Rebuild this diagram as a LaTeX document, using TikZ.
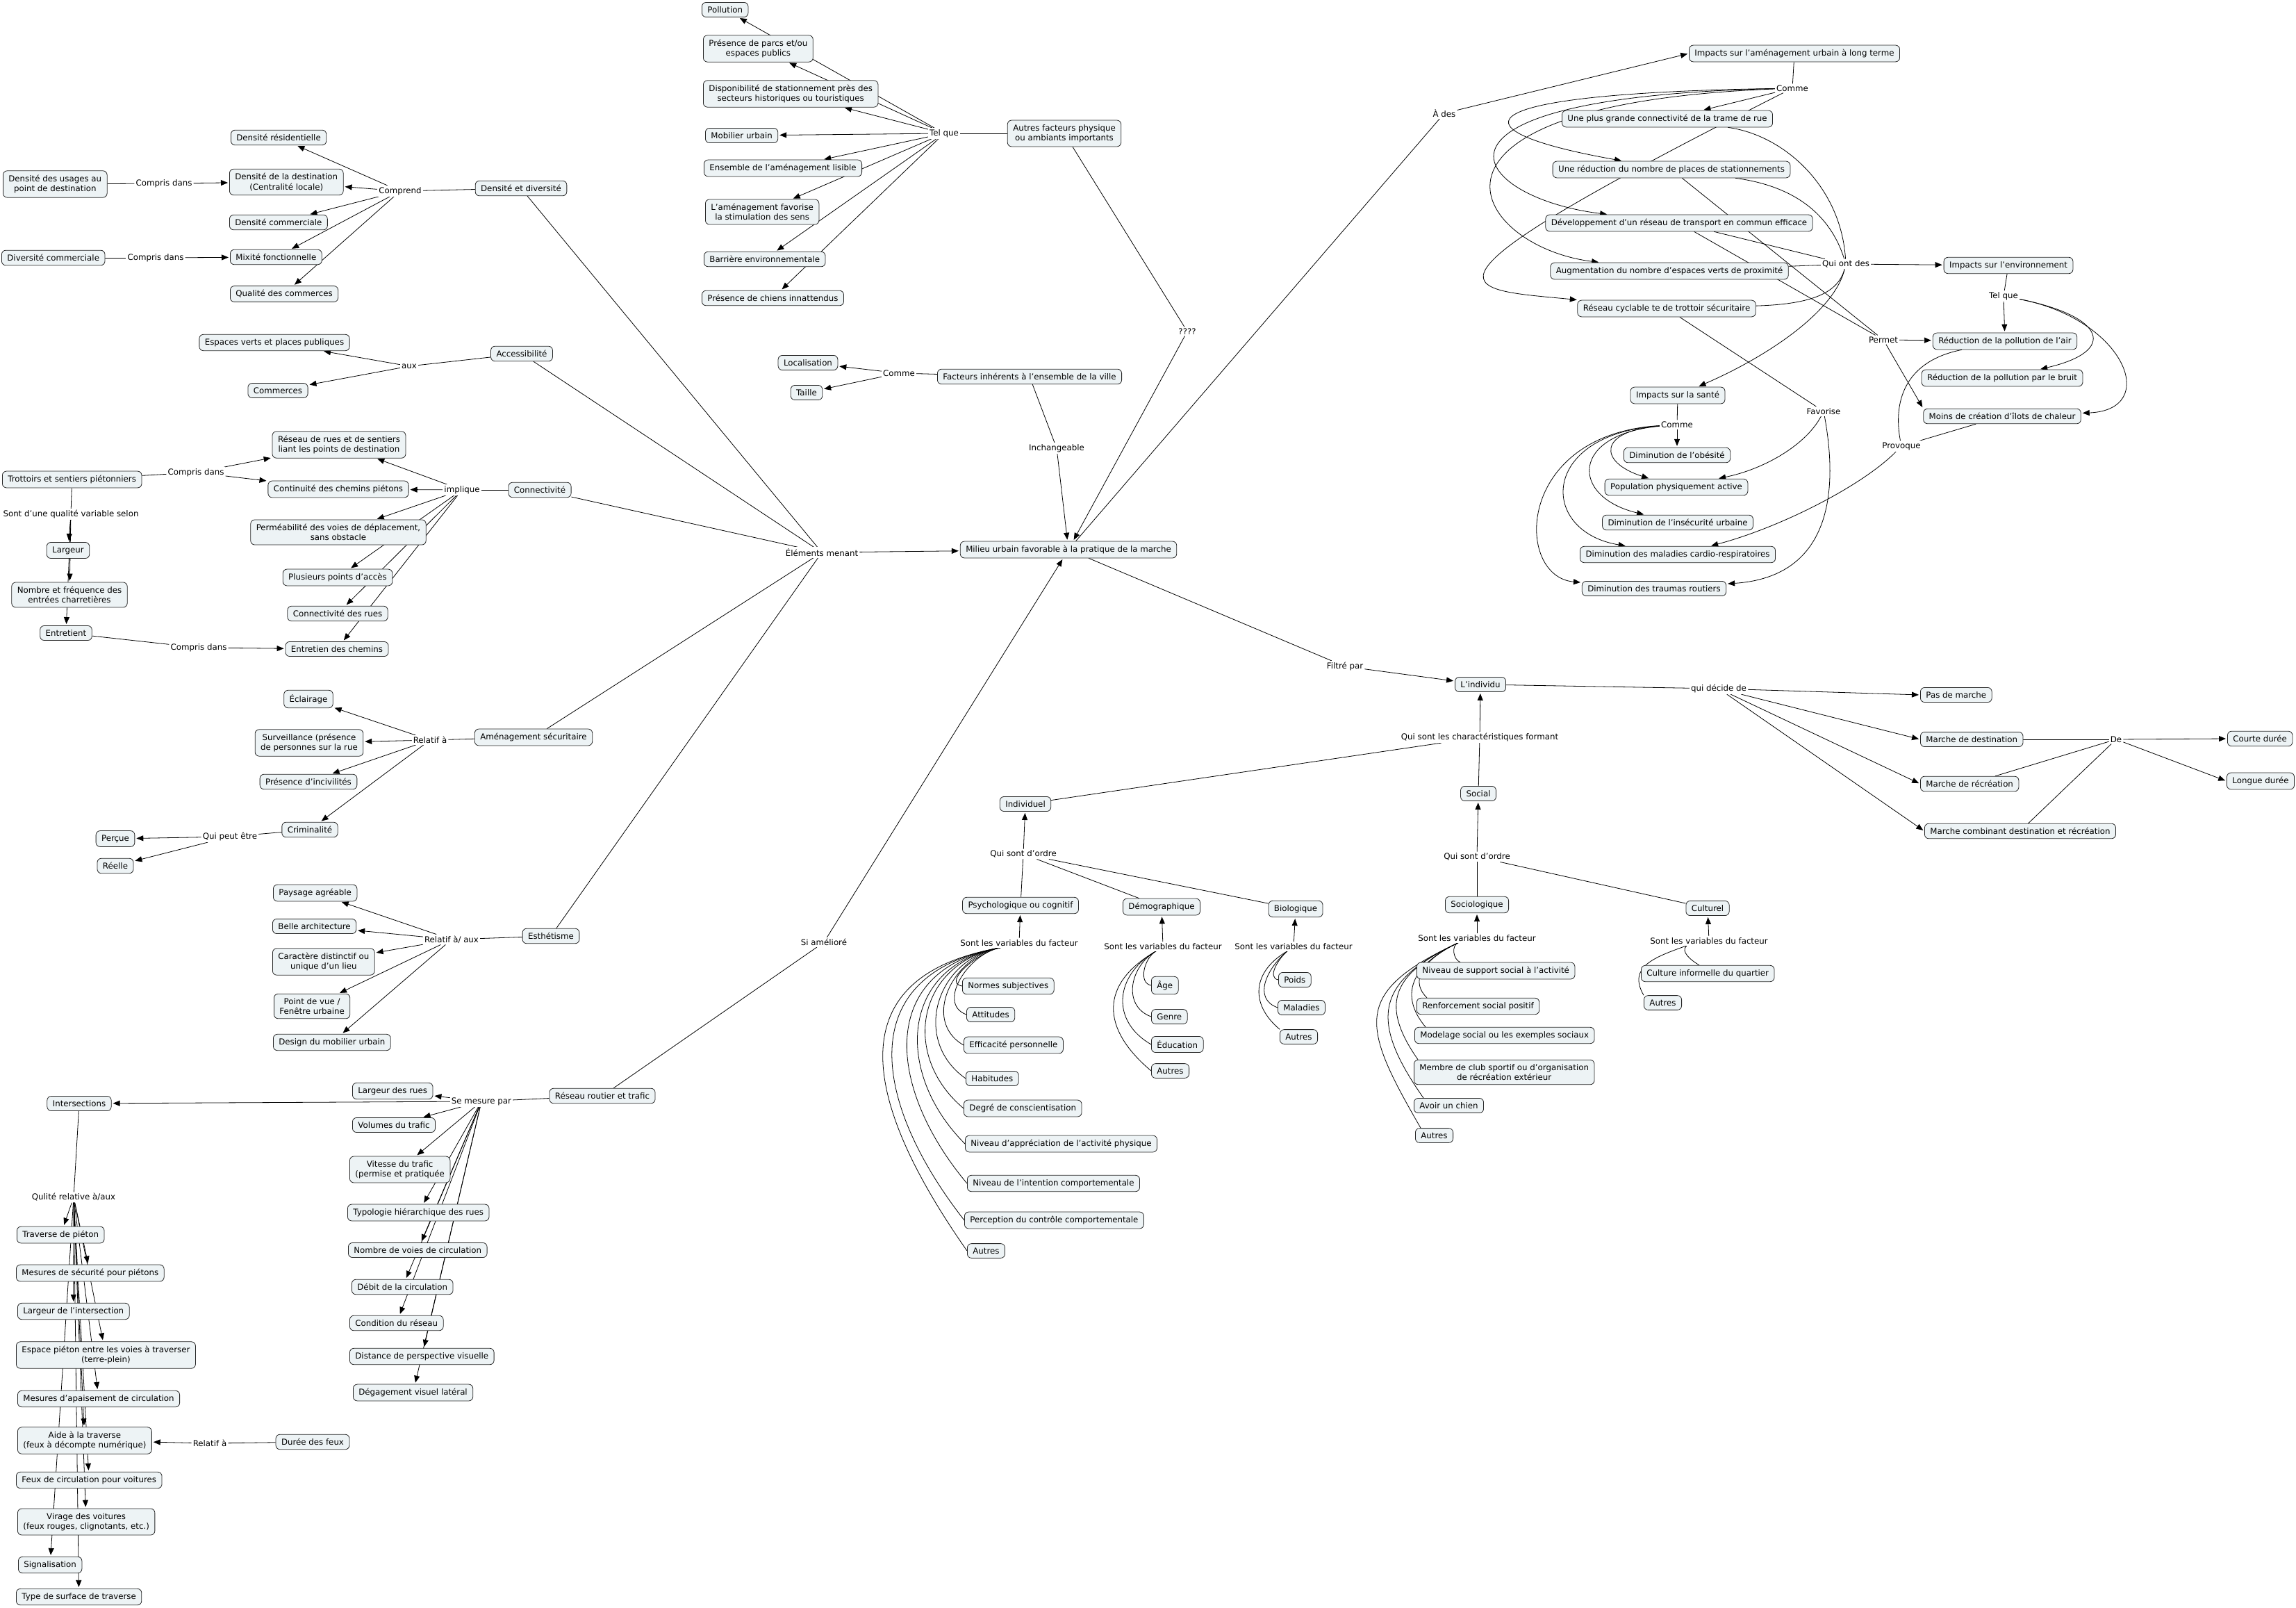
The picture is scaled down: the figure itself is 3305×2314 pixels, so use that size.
\documentclass[tikz,border=0pt]{standalone}
\usepackage{fontspec}
\setmainfont{DejaVu Sans}
\usetikzlibrary{arrows.meta,backgrounds}
\definecolor{boxfill}{RGB}{237,243,245}
\newcommand{\mapfont}{\fontsize{11.8}{14.5}\selectfont}
\tikzset{
  concept/.style={draw=black!85, line width=0.8pt, rounded corners=6pt, fill=boxfill,
    inner xsep=8pt, inner ysep=6pt, align=center, font=\mapfont},
  phrase/.style={fill=white, inner sep=2pt, font=\mapfont},
  conn/.style={line width=0.8pt},
  arr/.style={conn, -{Triangle[length=10pt,width=8pt]}, shorten >=2pt},
}
\begin{document}
\begin{tikzpicture}[x=1pt, y=1pt]
  \useasboundingbox (0,0) rectangle (3305,-2314);
  % Densite et diversite
  \node[concept] (dendiv) at (750,-271) {Densité et diversité};
  \node[phrase] (comprend) at (576,-275) {Comprend};
  \node[concept, anchor=west] (denres) at (332,-198) {Densité résidentielle};
  \node[concept, anchor=west] (dendest) at (330,-262) {Densité de la destination\\(Centralité locale)};
  \node[concept, anchor=west] (dencom) at (330,-320) {Densité commerciale};
  \node[concept, anchor=west] (mixite) at (331,-370) {Mixité fonctionnelle};
  \node[concept, anchor=west] (qualcom) at (331,-423) {Qualité des commerces};
  \node[concept, anchor=west] (denusage) at (4,-265) {Densité des usages au\\point de destination};
  \node[phrase] (compris1) at (236,-264) {Compris dans};
  \node[concept, anchor=west] (divcom) at (2,-371) {Diversité commerciale};
  \node[phrase] (compris2) at (224,-371) {Compris dans};
  % Accessibilite
  \node[concept] (access) at (751,-509) {Accessibilité};
  \node[phrase] (aux) at (589,-527) {aux};
  \node[concept] (espverts) at (395,-493) {Espaces verts et places publiques};
  \node[concept] (commerces) at (400,-562) {Commerces};
  % Connectivite
  \node[concept] (connect) at (777,-705) {Connectivité};
  \node[phrase] (implique) at (665,-705) {implique};
  \node[concept] (reseaurues) at (488,-640) {Réseau de rues et de sentiers\\liant les points de destination};
  \node[concept] (contin) at (487,-704) {Continuité des chemins piétons};
  \node[concept] (permea) at (487,-766) {Perméabilité des voies de déplacement,\\sans obstacle};
  \node[concept] (points) at (486,-831) {Plusieurs points d'accès};
  \node[concept] (connrues) at (486,-883) {Connectivité des rues};
  \node[concept] (entchemins) at (485,-934) {Entretien des chemins};
  \node[concept, anchor=west] (trottoirs) at (3,-690) {Trottoirs et sentiers piétonniers};
  \node[phrase] (compris3) at (282,-680) {Compris dans};
  \node[phrase] (qualvar) at (102,-740) {Sont d'une qualité variable selon};
  \node[concept] (largeur) at (98,-792) {Largeur};
  \node[concept] (nombre) at (100,-856) {Nombre et fréquence des\\entrées charretières};
  \node[concept] (entretient) at (95,-911) {Entretient};
  \node[phrase] (compris4) at (286,-932) {Compris dans};
  % Amenagement securitaire
  \node[concept] (amenag) at (768,-1061) {Aménagement sécuritaire};
  \node[phrase] (relatif1) at (619,-1065) {Relatif à};
  \node[concept] (eclairage) at (444,-1006) {Éclairage};
  \node[concept] (surveil) at (445,-1069) {Surveillance (présence\\de personnes sur la rue};
  \node[concept] (incivil) at (444,-1125) {Présence d'incivilités};
  \node[concept] (crimin) at (446,-1194) {Criminalité};
  \node[phrase] (peutetre) at (331,-1204) {Qui peut être};
  \node[concept] (percue) at (166,-1207) {Perçue};
  \node[concept] (reelle) at (166,-1246) {Réelle};
  % Esthetisme
  \node[concept] (esthet) at (793,-1347) {Esthétisme};
  \node[phrase] (relatifaux) at (650,-1352) {Relatif à/ aux};
  \node[concept, anchor=west] (paysage) at (393,-1285) {Paysage agréable};
  \node[concept, anchor=west] (archi) at (392,-1333) {Belle architecture};
  \node[concept, anchor=west] (caract) at (392,-1384) {Caractère distinctif ou\\unique d'un lieu};
  \node[concept, anchor=west] (pointvue) at (394,-1448) {Point de vue /\\Fenêtre urbaine};
  \node[concept, anchor=west] (design) at (393,-1500) {Design du mobilier urbain};
  % Reseau routier et trafic
  \node[concept] (reseaurout) at (867,-1577) {Réseau routier et trafic};
  \node[phrase] (mesure) at (693,-1585) {Se mesure par};
  \node[concept, anchor=west] (largrues) at (507,-1570) {Largeur des rues};
  \node[concept, anchor=west] (volumes) at (507,-1619) {Volumes du trafic};
  \node[concept, anchor=west] (vitesse) at (503,-1683) {Vitesse du trafic\\(permise et pratiquée};
  \node[concept, anchor=west] (typo) at (500,-1745) {Typologie hiérarchique des rues};
  \node[concept, anchor=west] (voies) at (501,-1799) {Nombre de voies de circulation};
  \node[concept, anchor=west] (debit) at (506,-1852) {Débit de la circulation};
  \node[concept, anchor=west] (condition) at (503,-1904) {Condition du réseau};
  \node[concept, anchor=west] (distance) at (503,-1952) {Distance de perspective visuelle};
  \node[concept, anchor=west] (degag) at (508,-2004) {Dégagement visuel latéral};
  \node[phrase] (amelio) at (1186,-1356) {Si amélioré};
  % Intersections
  \node[concept] (intersect) at (114,-1588) {Intersections};
  \node[phrase] (qualrel) at (106,-1723) {Qulité relative à/aux};
  \node[concept, anchor=west] (traverse) at (24,-1777) {Traverse de piéton};
  \node[concept, anchor=west] (mesecu) at (23,-1832) {Mesures de sécurité pour piétons};
  \node[concept, anchor=west] (largint) at (25,-1887) {Largeur de l'intersection};
  \node[concept, anchor=west] (espace) at (23,-1950) {Espace piéton entre les voies à traverser\\(terre-plein)};
  \node[concept, anchor=west] (apais) at (25,-2013) {Mesures d'apaisement de circulation};
  \node[concept, anchor=west] (aide) at (25,-2073) {Aide à la traverse\\(feux à décompte numérique)};
  \node[concept, anchor=west] (feux) at (23,-2130) {Feux de circulation pour voitures};
  \node[concept, anchor=west] (virage) at (25,-2190) {Virage des voitures\\(feux rouges, clignotants, etc.)};
  \node[concept, anchor=west] (signal) at (26,-2252) {Signalisation};
  \node[concept, anchor=west] (surface) at (23,-2298) {Type de surface de traverse};
  \node[phrase] (relatif2) at (302,-2077) {Relatif à};
  \node[concept] (duree) at (450,-2075) {Durée des feux};
  % Milieu urbain
  \node[concept] (milieu) at (1538,-791) {Milieu urbain favorable à la pratique de la marche};
  \node[phrase] (menant) at (1183,-795) {Éléments menant};
  % Autres facteurs physiques
  \node[concept] (autresfact) at (1532,-192) {Autres facteurs physique\\ou ambiants importants};
  \node[phrase] (telque1) at (1359,-192) {Tel que};
  \node[concept, anchor=west] (pollution) at (1010,-14) {Pollution};
  \node[concept, anchor=west] (parcs) at (1012,-70) {Présence de parcs et/ou\\espaces publics};
  \node[concept, anchor=west] (stationn) at (1012,-135) {Disponibilité de stationnement près des\\secteurs historiques ou touristiques};
  \node[concept, anchor=west] (mobilier) at (1015,-195) {Mobilier urbain};
  \node[concept, anchor=west] (lisible) at (1013,-242) {Ensemble de l'aménagement lisible};
  \node[concept, anchor=west] (stimul) at (1015,-305) {L'aménagement favorise\\la stimulation des sens};
  \node[concept, anchor=west] (barriere) at (1013,-373) {Barrière environnementale};
  \node[concept, anchor=west] (chiens) at (1010,-429) {Présence de chiens innattendus};
  \node[phrase] (questions) at (1709,-477) {????};
  % Facteurs inherents
  \node[concept] (inherents) at (1482,-542) {Facteurs inhérents à l'ensemble de la ville};
  \node[phrase] (comme1) at (1294,-537) {Comme};
  \node[concept] (localis) at (1163,-522) {Localisation};
  \node[concept] (taille) at (1161,-565) {Taille};
  \node[phrase] (inchang) at (1521,-645) {Inchangeable};
  % Impacts
  \node[phrase] (ades) at (2079,-163) {À des};
  \node[concept] (impamenag) at (2583,-77) {Impacts sur l'aménagement urbain à long terme};
  \node[phrase] (comme2) at (2580,-127) {Comme};
  \node[concept] (connectivite) at (2400,-171) {Une plus grande connectivité de la trame de rue};
  \node[concept] (reduction) at (2406,-244) {Une réduction du nombre de places de stationnements};
  \node[concept] (transport) at (2417,-321) {Développement d'un réseau de transport en commun efficace};
  \node[concept] (espverts2) at (2403,-390) {Augmentation du nombre d'espaces verts de proximité};
  \node[concept] (cyclable) at (2399,-444) {Réseau cyclable te de trottoir sécuritaire};
  \node[phrase] (quiont) at (2657,-380) {Qui ont des};
  \node[concept] (impenv) at (2891,-382) {Impacts sur l'environnement};
  \node[phrase] (telque2) at (2884,-426) {Tel que};
  \node[concept] (polair) at (2886,-491) {Réduction de la pollution de l'air};
  \node[concept] (bruit) at (2882,-544) {Réduction de la pollution par le bruit};
  \node[concept] (ilots) at (2882,-599) {Moins de création d'îlots de chaleur};
  \node[phrase] (permet) at (2711,-489) {Permet};
  \node[phrase] (favorise) at (2625,-592) {Favorise};
  \node[phrase] (provoque) at (2737,-642) {Provoque};
  \node[concept] (impsante) at (2415,-569) {Impacts sur la santé};
  \node[phrase] (comme3) at (2414,-611) {Comme};
  \node[concept] (obesite) at (2414,-655) {Diminution de l'obésité};
  \node[concept] (popactive) at (2413,-701) {Population physiquement active};
  \node[concept] (insecur) at (2415,-752) {Diminution de l'insécurité urbaine};
  \node[concept] (cardio) at (2415,-798) {Diminution des maladies cardio-respiratoires};
  \node[concept] (traumas) at (2381,-847) {Diminution des traumas routiers};
  % L'individu
  \node[phrase] (filtre) at (1936,-959) {Filtré par};
  \node[concept] (individu) at (2131,-985) {L'individu};
  \node[phrase] (decide) at (2474,-991) {qui décide de};
  \node[concept, anchor=west] (pasmarche) at (2764,-1000) {Pas de marche};
  \node[concept, anchor=west] (mdest) at (2764,-1064) {Marche de destination};
  \node[concept, anchor=west] (mrecr) at (2764,-1128) {Marche de récréation};
  \node[concept, anchor=west] (mcomb) at (2770,-1196) {Marche combinant destination et récréation};
  \node[phrase] (de) at (3046,-1064) {De};
  \node[concept, anchor=west] (courte) at (3206,-1063) {Courte durée};
  \node[concept, anchor=west] (longue) at (3205,-1124) {Longue durée};
  \node[phrase] (formant) at (2130,-1061) {Qui sont les charactéristiques formant};
  \node[concept] (individuel) at (1476,-1157) {Individuel};
  \node[concept] (social) at (2128,-1142) {Social};
  \node[phrase] (ordre1) at (1473,-1229) {Qui sont d'ordre};
  \node[phrase] (ordre2) at (2126,-1233) {Qui sont d'ordre};
  \node[concept] (psycho) at (1469,-1303) {Psychologique ou cognitif};
  \node[concept] (demo) at (1672,-1305) {Démographique};
  \node[concept] (bio) at (1865,-1308) {Biologique};
  \node[concept] (socio) at (2126,-1302) {Sociologique};
  \node[concept] (culturel) at (2458,-1307) {Culturel};
  \node[phrase] (varpsy) at (1467,-1357) {Sont les variables du facteur};
  \node[phrase] (vardemo) at (1674,-1362) {Sont les variables du facteur};
  \node[phrase] (varbio) at (1862,-1362) {Sont les variables du facteur};
  \node[phrase] (varsoc) at (2126,-1350) {Sont les variables du facteur};
  \node[phrase] (varcult) at (2460,-1354) {Sont les variables du facteur};
  % Variables
  \node[concept, anchor=west] (normes) at (1385,-1419) {Normes subjectives};
  \node[concept, anchor=west] (attitudes) at (1391,-1460) {Attitudes};
  \node[concept, anchor=west] (efficacite) at (1387,-1504) {Efficacité personnelle};
  \node[concept, anchor=west] (habitudes) at (1390,-1552) {Habitudes};
  \node[concept, anchor=west] (degre) at (1387,-1595) {Degré de conscientisation};
  \node[concept, anchor=west] (apprec) at (1389,-1646) {Niveau d'appréciation de l'activité physique};
  \node[concept, anchor=west] (intention) at (1392,-1703) {Niveau de l'intention comportementale};
  \node[concept, anchor=west] (perception) at (1388,-1756) {Perception du contrôle comportementale};
  \node[concept, anchor=west] (autrespsy) at (1392,-1800) {Autres};
  \node[concept, anchor=west] (age) at (1657,-1418) {Âge};
  \node[concept, anchor=west] (genre) at (1657,-1463) {Genre};
  \node[concept, anchor=west] (educ) at (1657,-1503) {Éducation};
  \node[concept, anchor=west] (autresdemo) at (1657,-1541) {Autres};
  \node[concept, anchor=west] (poids) at (1840,-1410) {Poids};
  \node[concept, anchor=west] (maladies) at (1839,-1450) {Maladies};
  \node[concept, anchor=west] (autresbio) at (1842,-1492) {Autres};
  \node[concept, anchor=west] (support) at (2039,-1397) {Niveau de support social à l'activité};
  \node[concept, anchor=west] (renfort) at (2039,-1448) {Renforcement social positif};
  \node[concept, anchor=west] (modelage) at (2036,-1490) {Modelage social ou les exemples sociaux};
  \node[concept, anchor=west] (membre) at (2035,-1543) {Membre de club sportif ou d'organisation\\de récréation extérieur};
  \node[concept, anchor=west] (chien) at (2035,-1591) {Avoir un chien};
  \node[concept, anchor=west] (autressoc) at (2037,-1634) {Autres};
  \node[concept, anchor=west] (cultinf) at (2362,-1401) {Culture informelle du quartier};
  \node[concept, anchor=west] (autrescult) at (2366,-1443) {Autres};

  \begin{scope}[on background layer]
    % Densite et diversite
    \draw[conn] (dendiv) -- (comprend);
    \foreach \nd in {denres,dendest,dencom,mixite,qualcom}
      \draw[arr] (comprend) -- (\nd);
    \draw[conn] (denusage) -- (compris1);
    \draw[arr] (compris1) -- (dendest);
    \draw[conn] (divcom) -- (compris2);
    \draw[arr] (compris2) -- (mixite);
    % Accessibilite
    \draw[conn] (access) -- (aux);
    \foreach \nd in {espverts,commerces}
      \draw[arr] (aux) -- (\nd);
    % Connectivite
    \draw[conn] (connect) -- (implique);
    \foreach \nd in {reseaurues,contin,permea,points,connrues,entchemins}
      \draw[arr] (implique) -- (\nd);
    \draw[conn] (trottoirs) -- (compris3);
    \foreach \nd in {reseaurues,contin}
      \draw[arr] (compris3) -- (\nd);
    \draw[conn] (trottoirs) -- (qualvar);
    \foreach \nd in {largeur,nombre,entretient}
      \draw[arr] (qualvar) -- (\nd);
    \draw[conn] (entretient) -- (compris4);
    \draw[arr] (compris4) -- (entchemins);
    % Amenagement securitaire
    \draw[conn] (amenag) -- (relatif1);
    \foreach \nd in {eclairage,surveil,incivil,crimin}
      \draw[arr] (relatif1) -- (\nd);
    \draw[conn] (crimin) -- (peutetre);
    \foreach \nd in {percue,reelle}
      \draw[arr] (peutetre) -- (\nd);
    % Esthetisme
    \draw[conn] (esthet) -- (relatifaux);
    \foreach \nd in {paysage,archi,caract,pointvue,design}
      \draw[arr] (relatifaux) -- (\nd);
    % Elements menant
    \foreach \nd in {dendiv,access,connect,amenag,esthet}
      \draw[conn] (\nd) -- (menant);
    \draw[arr] (menant) -- (milieu);
    % Reseau routier
    \draw[conn] (reseaurout) -- (mesure);
    \foreach \nd in {intersect,largrues,volumes,vitesse,typo,voies,debit,condition,distance,degag}
      \draw[arr] (mesure) -- (\nd);
    \draw[conn] (reseaurout) -- (amelio);
    \draw[arr] (amelio) -- (milieu);
    % Intersections
    \draw[conn] (intersect) -- (qualrel);
    \foreach \nd in {traverse,mesecu,largint,espace,apais,aide,feux,virage,signal,surface}
      \draw[arr] (qualrel) -- (\nd);
    \draw[conn] (duree) -- (relatif2);
    \draw[arr] (relatif2) -- (aide);
    % Autres facteurs et facteurs inherents
    \draw[conn] (autresfact) -- (telque1);
    \foreach \nd in {pollution,parcs,stationn,mobilier,lisible,stimul,barriere,chiens}
      \draw[arr] (telque1) -- (\nd);
    \draw[conn] (autresfact) -- (questions);
    \draw[arr] (questions) -- (milieu);
    \draw[conn] (inherents) -- (comme1);
    \foreach \nd in {localis,taille}
      \draw[arr] (comme1) -- (\nd);
    \draw[conn] (inherents) -- (inchang);
    \draw[arr] (inchang) -- (milieu);
    % Impacts a long terme
    \draw[conn] (milieu) -- (ades);
    \draw[arr] (ades) -- (impamenag.west);
    \draw[conn] (impamenag) -- (comme2);
    \draw[arr] (comme2) -- (connectivite);
    \draw[arr] (comme2) .. controls (2080,-135) and (2100,-190) .. (reduction);
    \draw[arr] (comme2) .. controls (2000,-140) and (2120,-285) .. (transport);
    \draw[arr] (comme2) .. controls (1990,-150) and (2120,-355) .. (espverts2);
    \draw[arr] (comme2) .. controls (2000,-420) and (2100,-415) .. (cyclable);
    % Qui ont des
    \draw[conn] (connectivite) .. controls (2570,-195) and (2650,-270) .. (quiont);
    \draw[conn] (reduction) .. controls (2585,-268) and (2635,-310) .. (quiont);
    \draw[conn] (transport) -- (quiont);
    \draw[conn] (espverts2) -- (quiont);
    \draw[conn] (cyclable) .. controls (2600,-438) and (2645,-425) .. (quiont);
    \draw[arr] (quiont) -- (impenv);
    \draw[arr] (quiont) .. controls (2640,-450) and (2540,-515) .. (impsante);
    % Permet, favorise, provoque
    \foreach \nd in {reduction,transport}
      \draw[conn] (\nd) -- (permet);
    \draw[arr] (permet) -- (polair);
    \draw[arr] (permet) -- (ilots.north west);
    \draw[conn] (cyclable) -- (favorise);
    \draw[arr] (favorise) .. controls (2600,-640) and (2540,-675) .. (popactive);
    \draw[arr] (favorise) .. controls (2645,-700) and (2640,-830) .. (traumas);
    \draw[conn] (impenv) -- (telque2);
    \draw[arr] (telque2) -- (polair);
    \draw[arr] (telque2) .. controls (3030,-455) and (3050,-505) .. (bruit);
    \draw[arr] (telque2) .. controls (3060,-460) and (3110,-590) .. (ilots);
    \draw[conn] (polair) .. controls (2740,-520) and (2725,-580) .. (provoque);
    \draw[conn] (ilots) -- (provoque);
    \draw[arr] (provoque) .. controls (2680,-700) and (2560,-760) .. (cardio);
    % Sante
    \draw[conn] (impsante) -- (comme3);
    \draw[arr] (comme3) -- (obesite);
    \draw[arr] (comme3) .. controls (2300,-620) and (2300,-665) .. (popactive);
    \draw[arr] (comme3) .. controls (2260,-625) and (2260,-715) .. (insecur);
    \draw[arr] (comme3) .. controls (2215,-625) and (2215,-765) .. (cardio);
    \draw[arr] (comme3) .. controls (2180,-625) and (2180,-830) .. (traumas);
    % L'individu
    \draw[conn] (milieu) -- (filtre);
    \draw[arr] (filtre) -- (individu);
    \draw[conn] (individu) -- (decide);
    \foreach \nd in {pasmarche,mdest,mrecr,mcomb}
      \draw[arr] (decide) -- (\nd.west);
    \foreach \nd in {mdest,mrecr,mcomb}
      \draw[conn] (\nd) -- (de);
    \foreach \nd in {courte,longue}
      \draw[arr] (de) -- (\nd.west);
    \foreach \nd in {individuel,social}
      \draw[conn] (\nd) -- (formant);
    \draw[arr] (formant) -- (individu);
    \foreach \nd in {psycho,demo,bio}
      \draw[conn] (\nd) -- (ordre1);
    \draw[arr] (ordre1) -- (individuel);
    \foreach \nd in {socio,culturel}
      \draw[conn] (\nd) -- (ordre2);
    \draw[arr] (ordre2) -- (social);
    \draw[arr] (varpsy) -- (psycho);
    \draw[arr] (vardemo) -- (demo);
    \draw[arr] (varbio) -- (bio);
    \draw[arr] (varsoc) -- (socio);
    \draw[arr] (varcult) -- (culturel);
    % Variables du facteur
    \coordinate (psyroot) at ([xshift=-27pt]varpsy.south);
    \foreach \nd/\ang/\lo in {normes/170/1.0, attitudes/160/1.1, efficacite/150/1.2,
        habitudes/145/1.25, degre/140/1.3, apprec/135/1.3, intention/130/1.35,
        perception/128/1.4, autrespsy/125/1.45}
      \draw[conn] (psyroot) to[out=190, in=\ang, looseness=\lo] (\nd.west);
    \coordinate (demoroot) at ([xshift=-10pt]vardemo.south);
    \foreach \nd/\ang/\lo in {age/170/1.0, genre/160/1.2, educ/150/1.3, autresdemo/140/1.4}
      \draw[conn] (demoroot) to[out=210, in=\ang, looseness=\lo] (\nd.west);
    \coordinate (bioroot) at ([xshift=-9pt]varbio.south);
    \foreach \nd/\ang/\lo in {poids/170/1.0, maladies/160/1.2}
      \draw[conn] (bioroot) to[out=220, in=\ang, looseness=\lo] (\nd.west);
    \draw[conn] (bioroot) to[out=210, in=140, looseness=1.3] (autresbio.north west);
    \coordinate (socroot) at ([xshift=-27pt]varsoc.south);
    \draw[conn] (socroot) to[out=200, in=160] ([xshift=63pt]support.north west);
    \foreach \nd/\dx/\ang/\lo in {renfort/15/135/1.2, modelage/16/130/1.3, membre/6/125/1.45,
        chien/14/125/1.5, autressoc/8/120/1.6}
      \draw[conn] (socroot) to[out=205, in=\ang, looseness=\lo] ([xshift=\dx pt]\nd.north west);
    \coordinate (cultroot) at ([xshift=-32pt]varcult.south);
    \draw[conn] (cultroot) to[out=220, in=150] ([xshift=84pt]cultinf.north west);
    \draw[conn] (cultroot) to[out=200, in=120, looseness=1.3] (autrescult.north west);
  \end{scope}
\end{tikzpicture}
\end{document}
